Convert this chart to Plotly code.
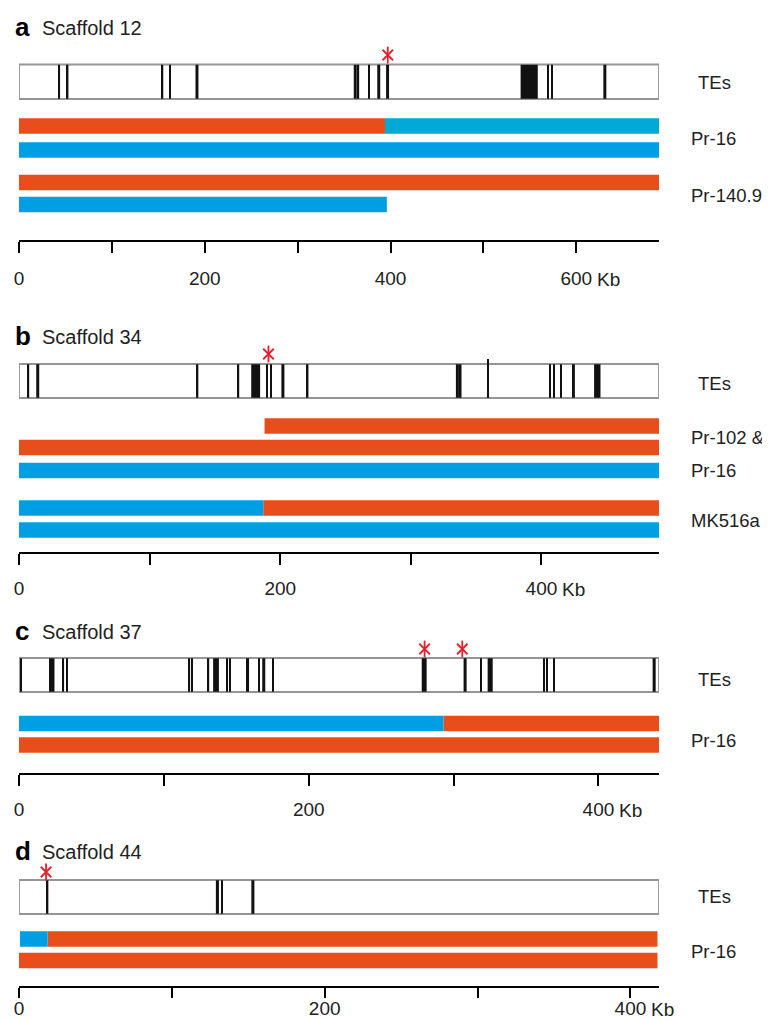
import plotly.graph_objects as go

# the page adds an 8px body margin, so the figure is drawn 8px smaller and all
# layout positions below are given in page pixels and shifted by OFF
OFF = 8
W, H = 770 - OFF, 1019 - OFF
FONT = "Liberation Sans, Arial, sans-serif"
COLORS = {"O": "#E84E1B", "B": "#009FE3", "C": "#00A9D6"}
STAR_RED = "#E4202A"

# ---------------- data (kb) ----------------
# Scaffold 12
A_LENGTH = 689
A_TES = [(42.6, 44.2), (51.6, 53.2), (153.7, 155.3), (161.6, 163.2), (190.0, 193.2),
         (360.4, 363.6), (364.6, 366.2), (375.9, 377.5), (385.7, 388.9), (395.2, 398.4),
         (540.0, 558.5), (569.0, 570.6), (573.2, 574.8), (629.1, 632.3)]
A_TES_TALL = []
A_STARS = [397]
A_SEGMENTS = [(0, 0, 394, "O"), (0, 394, 689, "C"), (1, 0, 689, "B"),
              (2, 0, 689, "O"), (3, 0, 396, "B")]
A_TICKS = [0, 100, 200, 300, 400, 500, 600]
A_TICKTEXT = ["0", "", "200", "", "400", "", "600"]
A_LABELS = ["TEs", "Pr-16", "Pr-140.9"]

# Scaffold 34
B_LENGTH = 490
B_TES = [(6.6, 7.8), (13.2, 15.5), (136.1, 137.3), (167.4, 168.6), (177.8, 184.6),
         (189.4, 190.6), (192.2, 193.4), (200.9, 203.2), (220.4, 221.6), (334.5, 336.8),
         (337.6, 338.8), (406.3, 407.3), (409.3, 410.3), (414.2, 415.2), (423.4, 425.6),
         (440.3, 445.2)]
B_TES_TALL = [(358.4, 359.6)]
B_STARS = [191]
B_SEGMENTS = [(0, 188, 490, "O"), (1, 0, 490, "O"), (2, 0, 490, "B"),
              (3, 0, 187, "B"), (3, 187, 490, "O"), (4, 0, 490, "B")]
B_TICKS = [0, 100, 200, 300, 400]
B_TICKTEXT = ["0", "", "200", "", "400"]
B_LABELS = ["TEs", "Pr-102 &", "Pr-16", "MK516a"]

# Scaffold 37
C_LENGTH = 441.8
C_TES = [(0.9, 1.9), (20.7, 24.5), (30.1, 31.1), (32.8, 33.8), (117.1, 118.1),
         (118.8, 119.8), (130.3, 131.3), (134.0, 138.0), (143.3, 144.3), (145.3, 146.3),
         (156.7, 158.8), (165.3, 166.3), (167.9, 170.0), (174.9, 175.9), (278.0, 281.4),
         (306.9, 309.0), (318.5, 319.5), (323.5, 327.0), (361.8, 362.8), (364.1, 365.1),
         (368.9, 369.9), (437.4, 439.5)]
C_TES_TALL = []
C_STARS = [280, 306]
C_SEGMENTS = [(0, 0, 293, "B"), (0, 293, 441.8, "O"), (1, 0, 441.8, "O")]
C_TICKS = [0, 100, 200, 300, 400]
C_TICKTEXT = ["0", "", "200", "", "400"]
C_LABELS = ["TEs", "Pr-16"]

# Scaffold 44
D_LENGTH = 418.7
D_TES = [(18.2, 19.2), (128.8, 130.8), (132.2, 133.2), (152.0, 154.0)]
D_TES_TALL = []
D_STARS = [17.7]
D_SEGMENTS = [(0, 0.6, 18.7, "B"), (0, 18.7, 417.7, "O"), (1, 0, 417.7, "O")]
D_TICKS = [0, 100, 200, 300, 400]
D_TICKTEXT = ["0", "", "200", "", "400"]
D_LABELS = ["TEs", "Pr-16"]

# ---------------- layout (page pixel positions) ----------------
panels = [
    dict(letter="a", name="Scaffold 12", length=A_LENGTH, tes=A_TES, tall=A_TES_TALL,
         stars=A_STARS, segs=A_SEGMENTS, ticks=A_TICKS, ticktext=A_TICKTEXT, labels=A_LABELS,
         title_y=27, star_y=55, box=(64.5, 99), rows=[126, 150, 182.5, 204.5], bar_h=15.5,
         axis_y=241, label_y=[82, 138, 195], unit_tick=600, ticklen=11, standoff=9),
    dict(letter="b", name="Scaffold 34", length=B_LENGTH, tes=B_TES, tall=B_TES_TALL,
         stars=B_STARS, segs=B_SEGMENTS, ticks=B_TICKS, ticktext=B_TICKTEXT, labels=B_LABELS,
         title_y=336, star_y=354, box=(364, 398), rows=[426, 447.5, 470.5, 508, 530], bar_h=15.5,
         axis_y=553, label_y=[383, 437, 470, 520], unit_tick=400, ticklen=11, standoff=7),
    dict(letter="c", name="Scaffold 37", length=C_LENGTH, tes=C_TES, tall=C_TES_TALL,
         stars=C_STARS, segs=C_SEGMENTS, ticks=C_TICKS, ticktext=C_TICKTEXT, labels=C_LABELS,
         title_y=631, star_y=649, box=(658, 692), rows=[723.5, 745], bar_h=15.5,
         axis_y=774, label_y=[679, 740], unit_tick=400, ticklen=11, standoff=7),
    dict(letter="d", name="Scaffold 44", length=D_LENGTH, tes=D_TES, tall=D_TES_TALL,
         stars=D_STARS, segs=D_SEGMENTS, ticks=D_TICKS, ticktext=D_TICKTEXT, labels=D_LABELS,
         title_y=851, star_y=872, box=(880, 914), rows=[939, 960.5], bar_h=15.5,
         axis_y=987, label_y=[896, 951], unit_tick=400, ticklen=10, standoff=-6),
]

X0, X1 = 19, 659


def fx(px):
    return (px - OFF) / W


def fy(py):
    return py - OFF


fig = go.Figure()
annotations = []
layout_axes = {}

for i, p in enumerate(panels):
    xa = "x" if i == 0 else f"x{i+1}"
    axname = "xaxis" if i == 0 else f"xaxis{i+1}"
    top, bot = p["box"]
    bc, bh = fy((top + bot) / 2), bot - top

    # TE box
    fig.add_trace(go.Bar(orientation="h", y=[bc], x=[p["length"]], base=[0], width=[bh],
                         marker=dict(color="white", line=dict(color="#959595", width=1.8)),
                         xaxis=xa, yaxis="y", showlegend=False, hoverinfo="skip"))
    # TEs
    if p["tes"]:
        fig.add_trace(go.Bar(orientation="h", y=[bc] * len(p["tes"]),
                             x=[e - s for s, e in p["tes"]], base=[s for s, e in p["tes"]],
                             width=[bh - 0.5] * len(p["tes"]),
                             marker=dict(color="#111111", line=dict(width=0)),
                             xaxis=xa, yaxis="y", showlegend=False, hoverinfo="skip"))
    if p["tall"]:
        fig.add_trace(go.Bar(orientation="h", y=[bc - 2.5] * len(p["tall"]),
                             x=[e - s for s, e in p["tall"]], base=[s for s, e in p["tall"]],
                             width=[bh + 5] * len(p["tall"]),
                             marker=dict(color="#111111", line=dict(width=0)),
                             xaxis=xa, yaxis="y", showlegend=False, hoverinfo="skip"))
    # haplotype segments
    for key, col in COLORS.items():
        segs = [s for s in p["segs"] if s[3] == key]
        if not segs:
            continue
        fig.add_trace(go.Bar(orientation="h", y=[fy(p["rows"][r]) for r, a, b, k in segs],
                             x=[b - a for r, a, b, k in segs], base=[a for r, a, b, k in segs],
                             width=[p["bar_h"]] * len(segs),
                             marker=dict(color=col, line=dict(width=0)),
                             xaxis=xa, yaxis="y", showlegend=False, hoverinfo="skip"))
    # stars (asterisk built from a vertical stroke and two diagonals)
    for sym, size in (("line-ns-open", 12), ("x-thin-open", 10.5)):
        fig.add_trace(go.Scatter(x=p["stars"], y=[fy(p["star_y"])] * len(p["stars"]),
                                 mode="markers",
                                 marker=dict(symbol=sym, size=size, color=STAR_RED,
                                             line=dict(color=STAR_RED, width=1.8)),
                                 xaxis=xa, yaxis="y", showlegend=False, hoverinfo="skip",
                                 cliponaxis=False))

    layout_axes[axname] = dict(
        domain=[fx(X0), fx(X1)], range=[0, p["length"]], anchor="free",
        position=1 - fy(p["axis_y"]) / H, showline=True, linecolor="black", linewidth=2.2,
        ticks="outside", ticklen=p["ticklen"], tickwidth=1.8, tickcolor="black",
        tickvals=p["ticks"], ticktext=p["ticktext"], showgrid=False, zeroline=False,
        tickfont=dict(family=FONT, size=19, color="#222"), ticklabelstandoff=p["standoff"],
        fixedrange=True, automargin=False,
    )

    # titles
    annotations.append(dict(x=fx(13), y=fy(p["title_y"]), xref="paper", yref="y",
                            text=f"<b>{p['letter']}</b>", showarrow=False, xanchor="left",
                            yanchor="middle", font=dict(family=FONT, size=26, color="black")))
    annotations.append(dict(x=fx(40), y=fy(p["title_y"]) + 1, xref="paper", yref="y", text=p["name"],
                            showarrow=False, xanchor="left", yanchor="middle",
                            font=dict(family=FONT, size=20, color="#222")))
    # right-hand labels
    for lab, ly in zip(p["labels"], p["label_y"]):
        lx = 696 if lab == "TEs" else 689
        annotations.append(dict(x=fx(lx), y=fy(ly), xref="paper", yref="y", text=lab,
                                showarrow=False, xanchor="left", yanchor="middle",
                                font=dict(family=FONT, size=18.5, color="#222")))
    # unit after last tick label
    annotations.append(dict(x=p["unit_tick"], y=fy(p["axis_y"]) + p["ticklen"] + p["standoff"] + 18,
                            xref=xa, yref="y", text="Kb", showarrow=False, xanchor="left",
                            yanchor="middle", xshift=19,
                            font=dict(family=FONT, size=19, color="#222")))

fig.update_layout(
    width=W, height=H, margin=dict(l=0, r=0, t=0, b=0, autoexpand=False),
    paper_bgcolor="white", plot_bgcolor="rgba(0,0,0,0)", barmode="overlay",
    yaxis=dict(domain=[0, 1], range=[H, 0], visible=False, fixedrange=True, automargin=False),
    annotations=annotations, showlegend=False,
    **layout_axes,
)

fig.write_html("out.html")
